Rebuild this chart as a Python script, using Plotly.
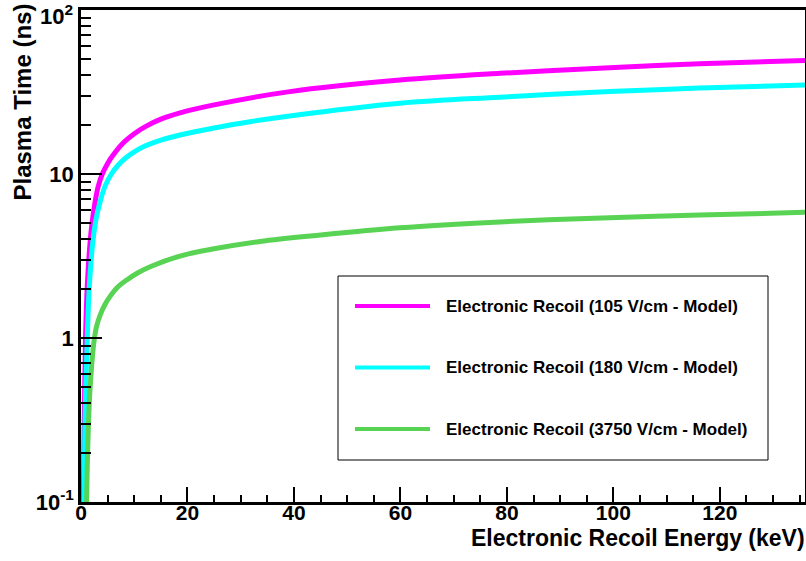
import plotly.graph_objects as go

# ---------------- data ----------------
series_names = [
    "Electronic Recoil (105 V/cm - Model)",
    "Electronic Recoil (180 V/cm - Model)",
    "Electronic Recoil (3750 V/cm - Model)",
]
series_colors = ["#ff00ff", "#00ffff", "#59d354"]

energy_105 = [0.45, 0.55, 0.7, 0.85, 1.0, 1.2, 1.6, 2.0, 2.6, 3.2, 4.0, 5.0, 6.0, 7.6, 10, 12, 15,
              18.6, 25, 39.2, 59.9, 78.7, 99.3, 116.2, 136]
plasma_105 = [0.1, 0.22, 0.5, 1.0, 1.48, 2.14, 3.47, 4.79, 6.61, 8.32, 10.0, 11.6, 13.0, 15.1, 17.6,
              19.4, 21.6, 23.6, 26.4, 31.8, 37.4, 41.1, 44.5, 47.0, 49.3]

energy_180 = [0.6, 0.7, 0.9, 1.18, 1.5, 1.8, 2.2, 2.8, 3.5, 4.5, 5.7, 7.0, 8.5, 10, 12, 15, 18.6, 25,
              32, 39.2, 59.9, 78.7, 99.3, 116.2, 136]
plasma_180 = [0.1, 0.25, 0.5, 1.0, 1.9, 2.69, 3.8, 5.25, 6.61, 8.41, 10.0, 11.35, 12.6, 13.65, 14.8,
              16.1, 17.3, 19.1, 20.9, 22.6, 27.0, 29.4, 31.8, 33.4, 34.9]

energy_3750 = [1.05, 1.2, 1.4, 1.65, 2.0, 2.4, 2.9, 3.6, 4.5, 5.5, 7.0, 8.6, 10.7, 13, 18.6, 25,
               33.6, 45, 59.9, 78.7, 99.3, 116.2, 136]
plasma_3750 = [0.1, 0.18, 0.3, 0.46, 0.68, 0.93, 1.17, 1.38, 1.6, 1.8, 2.06, 2.26, 2.5, 2.72, 3.16, 3.5,
               3.88, 4.25, 4.7, 5.1, 5.42, 5.62, 5.84]

x_tick_vals = [0, 20, 40, 60, 80, 100, 120]
x_tick_text = ["0", "20", "40", "60", "80", "100", "120"]
y_tick_vals = [0.1, 1, 10, 100]
y_tick_text = ["10<sup>-1</sup>", "1", "10", ""]
y_top_label = "10<sup>2</sup>"   # drawn just below the frame top, as in the reference

x_title = "Electronic Recoil Energy (keV)"
y_title = "Plasma Time (ns)"

# ---------------- figure ----------------
W, H = 806, 561
ML, MR, MT, MB = 81, 1, 10, 59
PW, PH = W - ML - MR, H - MT - MB

FONT = "Liberation Sans, Arial, Helvetica, sans-serif"

fig = go.Figure()
for name, col, xs, ys in zip(series_names, series_colors,
                             [energy_105, energy_180, energy_3750],
                             [plasma_105, plasma_180, plasma_3750]):
    fig.add_trace(go.Scatter(x=xs, y=ys, mode="lines", name=name,
                             line=dict(color=col, width=5, shape="spline", smoothing=1.0),
                             showlegend=False))

minor_y = [k * 10 ** d for d in (-1, 0, 1) for k in range(2, 10)]

fig.update_layout(
    width=W, height=H,
    margin=dict(l=ML, r=MR, t=MT, b=MB, pad=0),
    paper_bgcolor="white", plot_bgcolor="white",
    font=dict(family=FONT, color="black"),
    xaxis=dict(
        range=[0, 136], showgrid=False, zeroline=False, automargin=False,
        showline=True, linecolor="black", linewidth=2.5, mirror=True,
        tickmode="array", tickvals=x_tick_vals, ticktext=x_tick_text,
        ticks="inside", ticklen=15, tickwidth=2, tickcolor="black",
        ticklabelstandoff=-10, ticklabeloverflow="allow",
        minor=dict(dtick=5, ticks="inside", ticklen=7, tickwidth=2, tickcolor="black", showgrid=False),
        tickfont=dict(family=FONT, size=21, weight="bold"),
    ),
    yaxis=dict(
        type="log", range=[-1, 2.0001], showgrid=False, zeroline=False, automargin=False,
        showline=True, linecolor="black", linewidth=2.5, mirror=True,
        tickmode="array", tickvals=y_tick_vals, ticktext=y_tick_text,
        ticks="inside", ticklen=21, tickwidth=2, tickcolor="black",
        ticklabeloverflow="allow",
        minor=dict(tickvals=minor_y, ticks="inside", ticklen=10, tickwidth=2, tickcolor="black", showgrid=False),
        tickfont=dict(family=FONT, size=22, weight="bold"),
    ),
)

def px_x(p):
    return (p - ML) / PW

def px_y(p):
    return (MT + PH - p) / PH

annotations = [
    dict(text=x_title, xref="paper", yref="paper", x=px_x(806), y=px_y(538),
         xanchor="right", yanchor="middle", showarrow=False, borderpad=0,
         font=dict(family=FONT, size=23, weight="bold")),
    dict(text=y_title, xref="paper", yref="paper", x=px_x(22), y=px_y(2),
         xanchor="center", yanchor="top", textangle=-90, showarrow=False,
         font=dict(family=FONT, size=24, weight="bold")),
    dict(text=y_top_label, xref="paper", yref="paper", x=px_x(75), y=px_y(15),
         xanchor="right", yanchor="middle", showarrow=False,
         font=dict(family=FONT, size=22, weight="bold")),
]

# legend box drawn in ROOT style
shapes = [dict(type="rect", xref="paper", yref="paper",
               x0=px_x(338), x1=px_x(768), y0=px_y(460), y1=px_y(276),
               line=dict(color="black", width=1), fillcolor="white", layer="above")]
rows_py = [306, 367.5, 429]
for name, col, py in zip(series_names, series_colors, rows_py):
    shapes.append(dict(type="line", xref="paper", yref="paper",
                       x0=px_x(355), x1=px_x(430), y0=px_y(py), y1=px_y(py),
                       line=dict(color=col, width=4), layer="above"))
    annotations.append(dict(text=name, xref="paper", yref="paper", x=px_x(444), y=px_y(py),
                            xanchor="left", yanchor="middle", showarrow=False,
                            font=dict(family=FONT, size=17, weight="bold")))

fig.update_layout(shapes=shapes, annotations=annotations)
fig.write_html("out.html", config={"displayModeBar": False},
               post_script="document.body.style.margin='0';")
